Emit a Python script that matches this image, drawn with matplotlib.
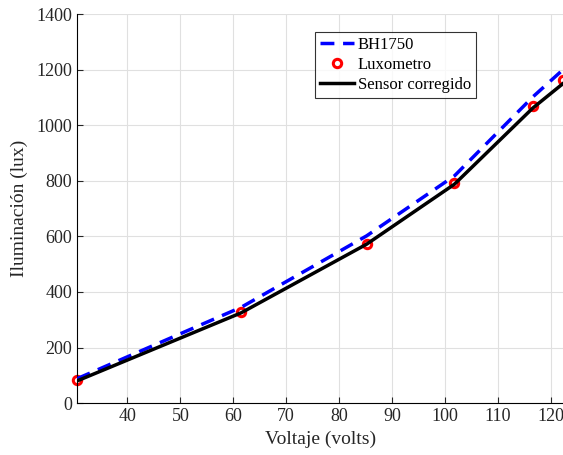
import matplotlib.pyplot as plt

voltaje = [30.5, 61.5, 85.2, 101.8, 116.6, 122.3]
bh1750 = [88, 345, 602, 818, 1102, 1200]
luxometro = [82, 327, 573, 791, 1068, 1163]
corregido = [80, 325, 572, 788, 1062, 1150]

plt.rcParams["font.family"] = ["Liberation Serif", "DejaVu Serif"]

fig = plt.figure(figsize=(5.63, 4.55), dpi=100)
ax = fig.add_axes([0.137, 0.114, 0.863, 0.855])

ax.plot(voltaje, bh1750, "--", color="blue", linewidth=2.5, dashes=(4, 2.5), label="BH1750", zorder=3)
ax.plot(voltaje, luxometro, "o", color="red", markerfacecolor="none", markeredgewidth=2.2,
        markersize=6, label="Luxometro", zorder=2, clip_on=False)
ax.plot(voltaje, corregido, "-", color="black", linewidth=2.5, label="Sensor corregido", zorder=3)

ax.set_xlim(30.5, 122.3)
ax.set_ylim(0, 1400)
ax.set_xticks(range(40, 121, 10))
ax.set_yticks(range(0, 1401, 200))
ax.grid(True, color="#e0e0e0", linewidth=0.8)
ax.set_axisbelow(True)
ax.spines["top"].set_visible(False)
ax.spines["right"].set_visible(False)
ax.tick_params(direction="in", labelsize=13, length=4, colors="#262626")
ax.set_xlabel("Voltaje (volts)", fontsize=14, color="#262626", labelpad=4)
ax.set_ylabel("Iluminación (lux)", fontsize=14, color="#262626", labelpad=6)

leg = ax.legend(loc="upper left", bbox_to_anchor=(0.49, 0.955), fontsize=12, frameon=True,
                fancybox=False, edgecolor="black", handlelength=2.0, handletextpad=0.25,
                borderpad=0.3, labelspacing=0.25, borderaxespad=0)
leg.get_frame().set_linewidth(0.8)

fig.savefig("out.png", dpi=100)
